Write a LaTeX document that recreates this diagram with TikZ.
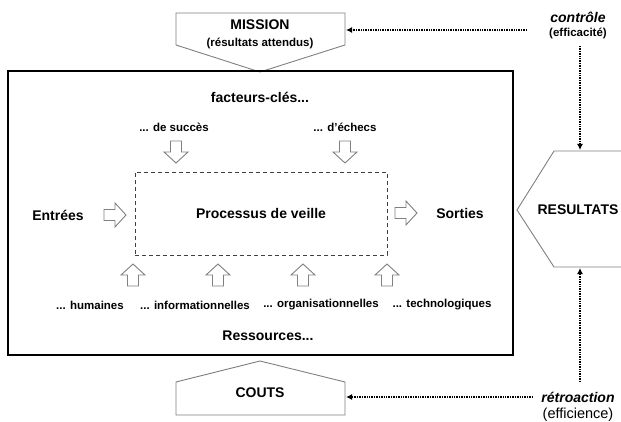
\documentclass[tikz,border=0pt]{standalone}
\usepackage{fontspec}
\setmainfont{Liberation Sans}
\usetikzlibrary{arrows.meta}
\newcommand\blockarrowat[3]{\draw[arrowline, shift={(#1,#2)}, rotate=#3] (-11,-5.5) -- (0,-5.5) -- (0,-12) -- (11,0) -- (0,12) -- (0,5.5) -- (-11,5.5) -- cycle;}
\begin{document}
\begin{tikzpicture}[x=1pt,y=-1pt,
  big/.style={font=\fontsize{14}{16}\selectfont\bfseries, inner sep=0pt},
  small/.style={font=\fontsize{11.5}{13}\selectfont\bfseries, inner sep=0pt},
  shapeline/.style={draw=gray, line width=0.9pt, fill=white},
  arrowline/.style={draw=gray, fill=white, line width=0.9pt, line join=miter},
  dotarrow/.style={line width=1.4pt, dash pattern=on 1pt off 0.7pt, -{Latex[length=6pt,width=6pt]}}
]
\useasboundingbox (0,0) rectangle (621,422);

% MISSION
\draw[shapeline] (176,13) -- (345,13) -- (345,45) -- (260,72) -- (176,45) -- cycle;
\node[big] (mission) at (260,25) {MISSION};
\node[small] (missionsub) at (260,43) {(résultats attendus)};
\coordinate (missionE) at (346,30);

% COUTS
\draw[shapeline] (176,415) -- (176,382) -- (260,361) -- (345,382) -- (345,415) -- cycle;
\node[big] (couts) at (260,393) {COUTS};
\coordinate (coutsE) at (346,397);

% RESULTATS
\draw[shapeline] (623,151) -- (554,151) -- (517,210) -- (554,267) -- (623,267);
\node[big] (resultats) at (578,210) {RESULTATS};
\coordinate (resT) at (580,150);
\coordinate (resB) at (580,268);

% main box
\node[draw=black, line width=2pt, minimum width=505pt, minimum height=284pt, inner sep=0pt] (main) at (260.5,213) {};

% process box
\node[draw=black!75, line width=0.9pt, dash pattern=on 4pt off 3pt, minimum width=252pt, minimum height=83pt, inner sep=0pt] (proc) at (261,213.5) {};
\node[big] (proctext) at (261,213.5) {Processus de veille};

\node[big] (facteurs) at (260,97) {facteurs-clés...};
\node[small] (succes) at (174,127) {... de succès};
\node[small] (echecs) at (345,127) {... d'échecs};
\blockarrowat{176}{152}{-90}
\blockarrowat{345}{152}{-90}

\node[big] (entrees) at (58,215) {Entrées};
\blockarrowat{115}{215}{0}
\node[big] (sorties) at (460,213) {Sorties};
\blockarrowat{406}{213}{0}

\blockarrowat{133}{275}{90}
\blockarrowat{218}{275}{90}
\blockarrowat{303}{275}{90}
\blockarrowat{387}{275}{90}
\node[small] (hum) at (90,305) {... humaines};
\node[small] (inf) at (195,305) {... informationnelles};
\node[small] (org) at (321,305) {... organisationnelles};
\node[small] (tec) at (442,305) {... technologiques};
\node[big] (ressources) at (268,336) {Ressources...};

% control
\node[big, font=\fontsize{14}{16}\selectfont\bfseries\itshape] (controle) at (578,17) {contrôle};
\node[small] (efficacite) at (578,33) {(efficacité)};
\coordinate (cstart) at (527,30);
\coordinate (ctop) at (580,46);
\draw[dotarrow] (cstart) -- (missionE);
\draw[dotarrow] (ctop) -- (resT);

% feedback
\node[big, font=\fontsize{14}{16}\selectfont\bfseries\itshape] (retro) at (578,397) {rétroaction};
\node[inner sep=0pt, font=\fontsize{14.5}{16}\selectfont] (efficience) at (578,415) {(efficience)};
\coordinate (rstart) at (533,397);
\coordinate (rbot) at (580,382);
\draw[dotarrow] (rstart) -- (coutsE);
\draw[dotarrow] (rbot) -- (resB);
\end{tikzpicture}
\end{document}
